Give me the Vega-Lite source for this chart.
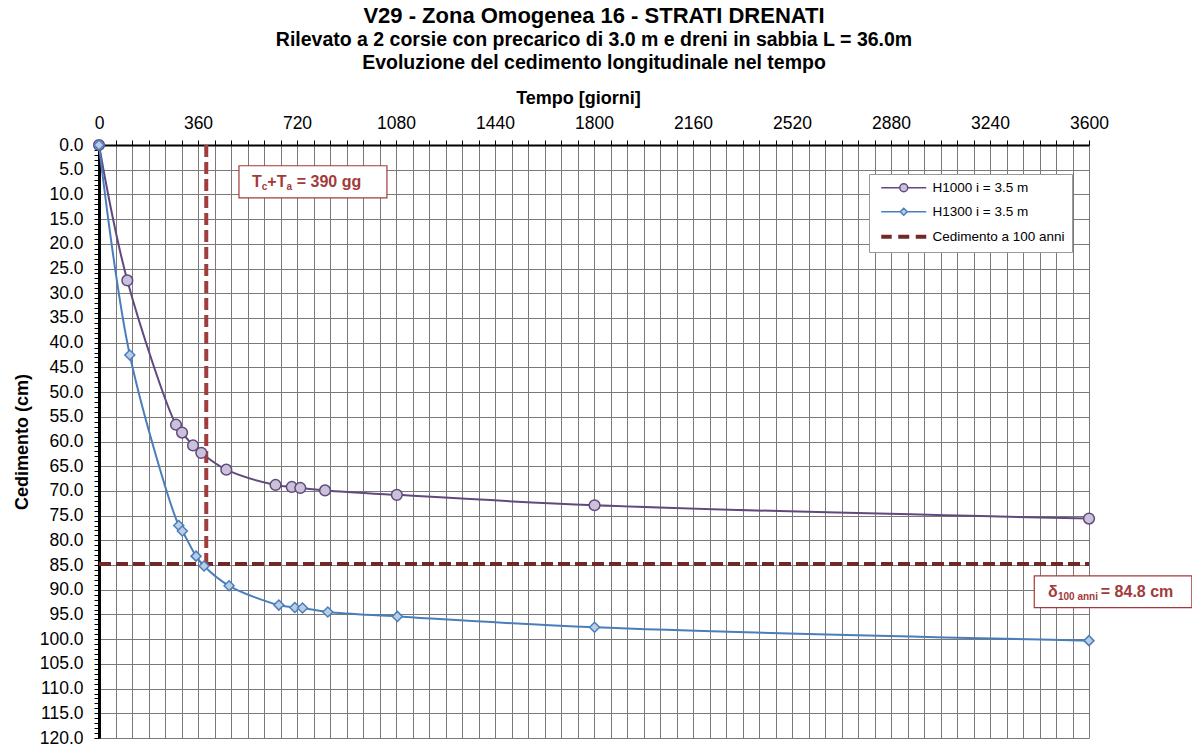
{
  "$schema": "https://vega.github.io/schema/vega-lite/v6.json",
  "width": 990,
  "height": 593,
  "autosize": {"type": "none"},
  "padding": {"left": 99, "top": 145, "right": 103, "bottom": 10},
  "background": "white",
  "config": {
    "view": {"stroke": null},
    "font": "Liberation Sans"
  },
  "title": {
    "text": "V29 - Zona Omogenea  16 - STRATI DRENATI",
    "subtitle": ["Rilevato a 2 corsie con precarico di 3.0 m e dreni in sabbia L = 36.0m", "Evoluzione del cedimento longitudinale nel tempo"],
    "font": "Liberation Sans",
    "fontSize": 22,
    "fontWeight": "bold",
    "color": "black",
    "subtitleFont": "Liberation Sans",
    "subtitleFontSize": 19.5,
    "subtitleFontWeight": "bold",
    "subtitleColor": "black",
    "subtitleLineHeight": 23,
    "subtitlePadding": 3,
    "anchor": "middle",
    "offset": 16
  },
  "datasets": {
    "curves": [
      {"series": "H1000 i = 3.5 m", "t": 0, "s": 0},
      {"series": "H1000 i = 3.5 m", "t": 103, "s": 27.4},
      {"series": "H1000 i = 3.5 m", "t": 280, "s": 56.6},
      {"series": "H1000 i = 3.5 m", "t": 302, "s": 58.2},
      {"series": "H1000 i = 3.5 m", "t": 342, "s": 60.8},
      {"series": "H1000 i = 3.5 m", "t": 372, "s": 62.3},
      {"series": "H1000 i = 3.5 m", "t": 463, "s": 65.7},
      {"series": "H1000 i = 3.5 m", "t": 642, "s": 68.8},
      {"series": "H1000 i = 3.5 m", "t": 701, "s": 69.2},
      {"series": "H1000 i = 3.5 m", "t": 732, "s": 69.4},
      {"series": "H1000 i = 3.5 m", "t": 822, "s": 69.9},
      {"series": "H1000 i = 3.5 m", "t": 1083, "s": 70.8},
      {"series": "H1000 i = 3.5 m", "t": 1802, "s": 72.9},
      {"series": "H1000 i = 3.5 m", "t": 3600, "s": 75.6},
      {"series": "H1300 i = 3.5 m", "t": 0, "s": 0},
      {"series": "H1300 i = 3.5 m", "t": 112, "s": 42.5},
      {"series": "H1300 i = 3.5 m", "t": 290, "s": 77.0},
      {"series": "H1300 i = 3.5 m", "t": 303, "s": 78.1},
      {"series": "H1300 i = 3.5 m", "t": 353, "s": 83.2},
      {"series": "H1300 i = 3.5 m", "t": 382, "s": 85.2},
      {"series": "H1300 i = 3.5 m", "t": 473, "s": 89.2},
      {"series": "H1300 i = 3.5 m", "t": 654, "s": 93.1},
      {"series": "H1300 i = 3.5 m", "t": 712, "s": 93.6},
      {"series": "H1300 i = 3.5 m", "t": 740, "s": 93.7},
      {"series": "H1300 i = 3.5 m", "t": 832, "s": 94.5},
      {"series": "H1300 i = 3.5 m", "t": 1085, "s": 95.4},
      {"series": "H1300 i = 3.5 m", "t": 1802, "s": 97.6},
      {"series": "H1300 i = 3.5 m", "t": 3600, "s": 100.3}
    ]
  },
  "encoding": {
    "x": {
      "field": "t",
      "type": "quantitative",
      "scale": {"domain": [0, 3600], "nice": false, "zero": false},
      "axis": {
        "orient": "top",
        "title": "Tempo [giorni]",
        "titleFont": "Liberation Sans",
        "titleFontSize": 18,
        "titleFontWeight": "bold",
        "titleColor": "black",
        "titlePadding": 7,
        "titleX": 479,
        "values": [0,60,120,180,240,300,360,420,480,540,600,660,720,780,840,900,960,1020,1080,1140,1200,1260,1320,1380,1440,1500,1560,1620,1680,1740,1800,1860,1920,1980,2040,2100,2160,2220,2280,2340,2400,2460,2520,2580,2640,2700,2760,2820,2880,2940,3000,3060,3120,3180,3240,3300,3360,3420,3480,3540,3600],
        "labelExpr": "datum.value % 360 === 0 ? datum.value : ''",
        "labelOverlap": false,
        "labelFlush": false,
        "labelFont": "Liberation Sans",
        "labelFontSize": 17.5,
        "labelColor": "black",
        "labelPadding": 8,
        "tickSize": 5,
        "tickColor": "black",
        "domainColor": "black",
        "domainWidth": 2,
        "grid": true,
        "gridColor": "#7a7a7a",
        "gridWidth": 1
      }
    },
    "y": {
      "field": "s",
      "type": "quantitative",
      "scale": {"domain": [0, 120], "reverse": true, "nice": false, "zero": false},
      "axis": {
        "title": "Cedimento (cm)",
        "titleFont": "Liberation Sans",
        "titleFontSize": 18,
        "titleFontWeight": "bold",
        "titleColor": "black",
        "titlePadding": 8,
        "values": [0,1,2,3,4,5,6,7,8,9,10,11,12,13,14,15,16,17,18,19,20,21,22,23,24,25,26,27,28,29,30,31,32,33,34,35,36,37,38,39,40,41,42,43,44,45,46,47,48,49,50,51,52,53,54,55,56,57,58,59,60,61,62,63,64,65,66,67,68,69,70,71,72,73,74,75,76,77,78,79,80,81,82,83,84,85,86,87,88,89,90,91,92,93,94,95,96,97,98,99,100,101,102,103,104,105,106,107,108,109,110,111,112,113,114,115,116,117,118,119,120],
        "labelExpr": "datum.value % 5 === 0 ? format(datum.value, '.1f') : ''",
        "labelOverlap": false,
        "labelFlush": false,
        "labelFont": "Liberation Sans",
        "labelFontSize": 17.5,
        "labelColor": "black",
        "labelPadding": 11,
        "tickSize": 5,
        "tickColor": "black",
        "domainColor": "black",
        "domainWidth": 3,
        "grid": true,
        "gridColor": "#7a7a7a",
        "gridWidth": 1,
        "gridOpacity": {"condition": {"test": "datum.value % 5 === 0", "value": 1}, "value": 0}
      }
    }
  },
  "layer": [
    {
      "data": {"name": "curves"},
      "mark": {"type": "line", "interpolate": "catmull-rom", "strokeWidth": 2},
      "encoding": {
        "color": {
          "field": "series",
          "type": "nominal",
          "scale": {
            "domain": ["H1000 i = 3.5 m", "H1300 i = 3.5 m", "Cedimento a 100 anni"],
            "range": ["#604A7B", "#4A7EBB", "#712828"]
          },
          "legend": {
            "title": null,
            "orient": "none",
            "legendX": 770,
            "legendY": 29,
            "padding": 7,
            "strokeColor": "#9a9a9a",
            "fillColor": "white",
            "labelFont": "Liberation Sans",
            "labelFontSize": 13.5,
            "labelColor": "black",
            "symbolSize": 100,
            "symbolOffset": 21,
            "labelOffset": 22,
            "rowPadding": 9,
            "encode": {
              "symbols": {
                "update": {
                  "shape": {"signal": "datum.value === 'H1000 i = 3.5 m' ? 'M-4.5,0H-0.8M0.8,0H4.5M0.8,0A0.8,0.8 0 1,1 -0.8,0A0.8,0.8 0 1,1 0.8,0Z' : datum.value === 'H1300 i = 3.5 m' ? 'M-4.5,0H-0.7M0.7,0H4.5M0,-0.7L0.7,0L0,0.7L-0.7,0Z' : 'M-4.5,0H-2.4M-1.1,0H1.1M2.4,0H4.5'"},
                  "fill": {"signal": "datum.value === 'H1000 i = 3.5 m' ? '#CCC1DA' : datum.value === 'H1300 i = 3.5 m' ? '#B9CDE5' : 'transparent'"},
                  "stroke": {"signal": "datum.value === 'H1000 i = 3.5 m' ? '#604A7B' : datum.value === 'H1300 i = 3.5 m' ? '#4A7EBB' : '#712828'"},
                  "strokeWidth": {"signal": "datum.value === 'Cedimento a 100 anni' ? 4 : 1.5"},
                  "opacity": {"value": 1}
                }
              }
            }
          }
        }
      }
    },
    {
      "data": {"values": [{"series": "Cedimento a 100 anni", "t": 0, "t2": 3600, "s": 84.8}]},
      "mark": {"type": "rule", "strokeWidth": 4, "strokeDash": [12, 5]},
      "encoding": {
        "x2": {"field": "t2"},
        "color": {"field": "series", "type": "nominal"}
      }
    },
    {
      "data": {"values": [{"t": 390, "s": 0, "s2": 85.5}]},
      "mark": {"type": "rule", "strokeWidth": 4, "strokeDash": [12, 5], "color": "#A23B3B"},
      "encoding": {
        "y2": {"field": "s2"}
      }
    },
    {
      "data": {"name": "curves"},
      "mark": {"type": "point", "strokeWidth": 1.5, "opacity": 1},
      "encoding": {
        "shape": {"field": "series", "type": "nominal", "scale": {"domain": ["H1000 i = 3.5 m", "H1300 i = 3.5 m"], "range": ["circle", "diamond"]}, "legend": null},
        "fill": {"field": "series", "type": "nominal", "scale": {"domain": ["H1000 i = 3.5 m", "H1300 i = 3.5 m"], "range": ["#CCC1DA", "#B9CDE5"]}, "legend": null},
        "stroke": {"field": "series", "type": "nominal", "scale": {"domain": ["H1000 i = 3.5 m", "H1300 i = 3.5 m"], "range": ["#604A7B", "#4A7EBB"]}, "legend": null},
        "size": {"field": "series", "type": "nominal", "scale": {"domain": ["H1000 i = 3.5 m", "H1300 i = 3.5 m"], "range": [115, 100]}, "legend": null}
      }
    },
    {
      "data": {"values": [{"t": 509, "t2": 1047, "s": 4.2, "s2": 10.7}, {"t": 3401, "t2": 3974, "s": 87.2, "s2": 93.6}]},
      "mark": {"type": "rect", "fill": "white", "stroke": "#A23B3B", "strokeWidth": 1.2},
      "encoding": {
        "x2": {"field": "t2"},
        "y2": {"field": "s2"}
      }
    },
    {
      "data": {"values": [
        {"label": "T", "t": 556, "s": 8.55},
        {"label": "+T", "t": 612, "s": 8.55},
        {"label": "= 390 gg", "t": 719, "s": 8.55},
        {"label": "δ", "t": 3451, "s": 91.4},
        {"label": "= 84.8 cm", "t": 3643, "s": 91.4}
      ]},
      "mark": {"type": "text", "align": "left", "baseline": "alphabetic", "fontSize": 16, "fontWeight": "bold", "font": "Liberation Sans", "color": "#A23B3B"},
      "encoding": {
        "text": {"field": "label"}
      }
    },
    {
      "data": {"values": [
        {"label": "c", "t": 592, "s": 9.2},
        {"label": "a", "t": 682, "s": 9.2},
        {"label": "100 anni", "t": 3487, "s": 92.0}
      ]},
      "mark": {"type": "text", "align": "left", "baseline": "alphabetic", "fontSize": 10, "fontWeight": "bold", "font": "Liberation Sans", "color": "#A23B3B"},
      "encoding": {
        "text": {"field": "label"}
      }
    }
  ]
}
